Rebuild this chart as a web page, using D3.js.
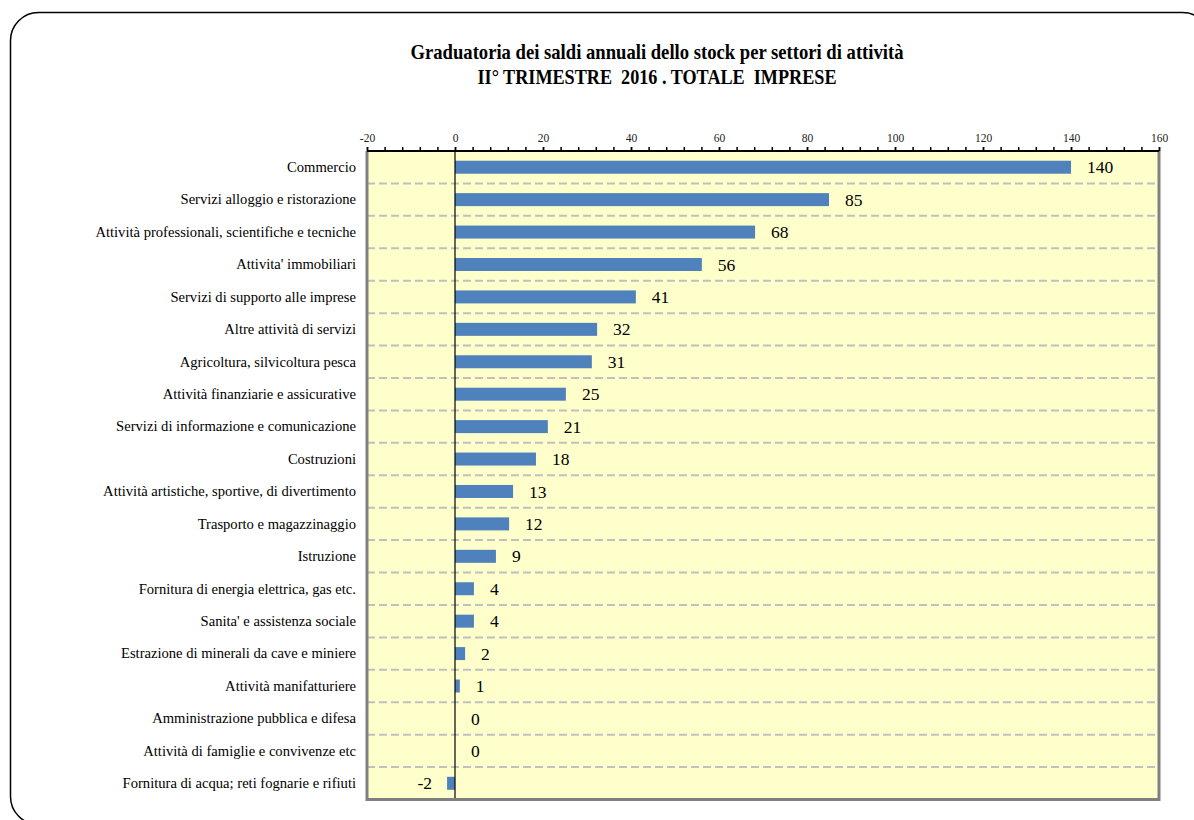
<html lang="it">
<head>
    <meta charset="UTF-8">
    <title>Graduatoria dei saldi annuali</title>
    <script src="https://cdn.jsdelivr.net/npm/d3@7/dist/d3.min.js"></script>
    <style>
        body { margin: 0; background: #ffffff; }
        svg { display: block; }
    </style>
</head>
<body>
    <svg id="svg"></svg>

    <script>

        var WIDTH = 1194;
        var HEIGHT = 820;

        // data (thousands of firms)
        var categories = [
            "Commercio",
            "Servizi alloggio e ristorazione",
            "Attività professionali, scientifiche e tecniche",
            "Attivita' immobiliari",
            "Servizi di supporto alle imprese",
            "Altre attività di servizi",
            "Agricoltura, silvicoltura pesca",
            "Attività finanziarie e assicurative",
            "Servizi di informazione e comunicazione",
            "Costruzioni",
            "Attività artistiche, sportive, di divertimento",
            "Trasporto e magazzinaggio",
            "Istruzione",
            "Fornitura di energia elettrica, gas etc.",
            "Sanita' e assistenza sociale",
            "Estrazione di minerali da cave e miniere",
            "Attività manifatturiere",
            "Amministrazione pubblica e difesa",
            "Attività di famiglie e convivenze etc",
            "Fornitura di acqua; reti fognarie e rifiuti"
        ];
        var values = [140, 85, 68.2, 56.1, 41.1, 32.3, 31.1, 25.2, 21.1, 18.4,
                      13.2, 12.3, 9.3, 4.3, 4.3, 2.3, 1.1, 0, 0, -1.8];
        var majorTicks = [-20, 0, 20, 40, 60, 80, 100, 120, 140, 160];
        var minorTicks = d3.range(-20, 161, 4);
        var titleLines = [
            "Graduatoria dei saldi annuali dello stock per settori di attività",
            "II° TRIMESTRE  2016 . TOTALE  IMPRESE"
        ];

        var PLOT = {left: 367, right: 1159, top: 151, bottom: 799.5};
        var SERIF = "'Liberation Serif', 'Times New Roman', serif";

        var svg = d3.select('#svg')
                    .attr("width", WIDTH)
                    .attr("height", HEIGHT);

        // outer rounded frame
        svg.append("rect")
            .attr("x", 10.5)
            .attr("y", 12.5)
            .attr("width", 1200)
            .attr("height", 812)
            .attr("rx", 28)
            .attr("fill", "none")
            .attr("stroke", "#000")
            .attr("stroke-width", 1.5);

        // title
        var titleLen = [493, 359];
        svg.selectAll("text.title")
            .data(titleLines)
            .enter()
            .append("text")
            .attr("class", "title")
            .attr("x", 657)
            .attr("y", function(d, i){ return 59 + i * 25; })
            .attr("text-anchor", "middle")
            .attr("font-family", SERIF)
            .attr("font-weight", "bold")
            .attr("font-size", "21px")
            .attr("textLength", function(d, i){ return titleLen[i]; })
            .attr("lengthAdjust", "spacingAndGlyphs")
            .style("white-space", "pre")
            .text(function(d){ return d; });

        var xScale = d3.scaleLinear()
                        .domain([-20, 160])
                        .range([PLOT.left, PLOT.right]);

        var yScale = d3.scaleBand()
                        .domain(categories)
                        .range([PLOT.top, PLOT.bottom])
                        .paddingInner(0)
                        .paddingOuter(0);

        var barH = 13;

        // plot background
        svg.append("rect")
            .attr("x", PLOT.left)
            .attr("y", PLOT.top)
            .attr("width", PLOT.right - PLOT.left)
            .attr("height", PLOT.bottom - PLOT.top)
            .attr("fill", "#ffffcc");

        // dashed separators between categories
        svg.selectAll("line.sep")
            .data(categories.slice(1))
            .enter()
            .append("line")
            .attr("class", "sep")
            .attr("x1", PLOT.left)
            .attr("x2", PLOT.right)
            .attr("y1", function(d){ return yScale(d); })
            .attr("y2", function(d){ return yScale(d); })
            .attr("stroke", "#c0c0c0")
            .attr("stroke-width", 2)
            .attr("stroke-dasharray", "8,4");

        // bars
        svg.selectAll("rect.bar")
            .data(values)
            .enter()
            .append("rect")
            .attr("class", "bar")
            .attr("x", function(d){ return xScale(Math.min(0, d)); })
            .attr("y", function(d, i){
                return yScale(categories[i]) + yScale.bandwidth() / 2 - barH / 2;
            })
            .attr("width", function(d){ return Math.abs(xScale(d) - xScale(0)); })
            .attr("height", barH)
            .attr("fill", "#4f81bd");

        // zero line
        svg.append("line")
            .attr("x1", xScale(0))
            .attr("x2", xScale(0))
            .attr("y1", PLOT.top)
            .attr("y2", PLOT.bottom)
            .attr("stroke", "#000")
            .attr("stroke-width", 1.2);

        // value labels
        svg.selectAll("text.anno")
            .data(values)
            .enter()
            .append("text")
            .attr("class", "anno")
            .attr("x", function(d){
                return d < 0 ? xScale(d) - 15 : xScale(d) + 16;
            })
            .attr("y", function(d, i){
                return yScale(categories[i]) + yScale.bandwidth() / 2;
            })
            .attr("dy", "0.35em")
            .attr("text-anchor", function(d){ return d < 0 ? "end" : "start"; })
            .attr("font-family", SERIF)
            .attr("font-size", "17.5px")
            .attr("fill", "#000")
            .text(function(d){ return Math.round(d); });

        // category labels
        svg.selectAll("text.cat")
            .data(categories)
            .enter()
            .append("text")
            .attr("class", "cat")
            .attr("x", 356)
            .attr("y", function(d){ return yScale(d) + yScale.bandwidth() / 2; })
            .attr("dy", "0.33em")
            .attr("text-anchor", "end")
            .attr("font-family", SERIF)
            .attr("font-size", "14.6px")
            .attr("fill", "#000")
            .text(function(d){ return d; });

        // plot border (gray left/right/bottom)
        svg.append("path")
            .attr("d", "M" + PLOT.left + "," + PLOT.top +
                       "V" + PLOT.bottom +
                       "H" + PLOT.right +
                       "V" + PLOT.top)
            .attr("fill", "none")
            .attr("stroke", "#808080")
            .attr("stroke-width", 3);

        // top axis: minor ticks, then major ticks with labels
        var minorAxis = d3.axisTop(xScale)
                        .tickValues(minorTicks)
                        .tickSize(4)
                        .tickFormat("");

        var xAxis = d3.axisTop(xScale)
                        .tickValues(majorTicks)
                        .tickSize(4)
                        .tickPadding(5)
                        .tickFormat(function(d){ return String(d); });

        svg.append("g")
            .attr("class", "minor axis")
            .attr("transform", "translate(0," + PLOT.top + ")")
            .call(minorAxis)
            .call(function(g){ g.select(".domain").remove(); })
            .selectAll("line")
            .attr("stroke-width", 1.5);

        var gx = svg.append("g")
            .attr("class", "x axis")
            .attr("transform", "translate(0," + PLOT.top + ")")
            .call(xAxis);

        gx.select(".domain")
            .attr("d", "M" + PLOT.left + ",0H" + PLOT.right)
            .attr("stroke-width", 2);

        gx.selectAll("line").attr("stroke-width", 1.5);

        gx.selectAll("text")
            .attr("font-family", SERIF)
            .attr("font-size", "11.5px")
            .attr("fill", "#222");

    </script>

</body>
</html>
